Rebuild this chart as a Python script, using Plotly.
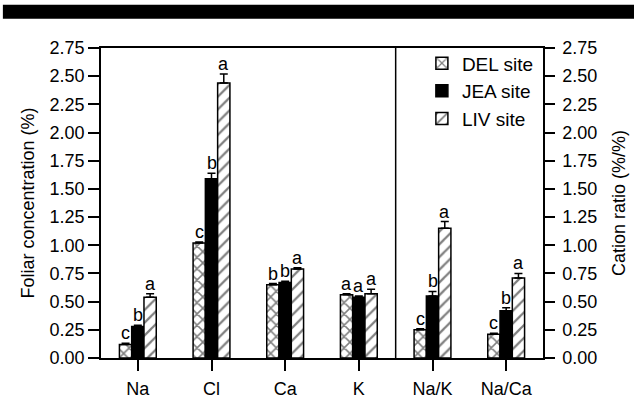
import plotly.graph_objects as go

categories = ["Na", "Cl", "Ca", "K", "Na/K", "Na/Ca"]
sites = ["DEL site", "JEA site", "LIV site"]
del_vals = [0.12, 1.02, 0.65, 0.56, 0.25, 0.21]
jea_vals = [0.28, 1.59, 0.67, 0.54, 0.55, 0.42]
liv_vals = [0.54, 2.44, 0.79, 0.57, 1.15, 0.71]
del_err = [0.01, 0.01, 0.01, 0.01, 0.01, 0.01]
jea_err = [0.01, 0.05, 0.01, 0.01, 0.04, 0.025]
liv_err = [0.03, 0.08, 0.01, 0.04, 0.06, 0.04]
del_letters = ["c", "c", "b", "a", "c", "c"]
jea_letters = ["b", "b", "b", "a", "b", "b"]
liv_letters = ["a", "a", "a", "a", "a", "a"]
y_ticks = [0.00, 0.25, 0.50, 0.75, 1.00, 1.25, 1.50, 1.75, 2.00, 2.25, 2.50, 2.75]

FONT = "Liberation Sans, Arial, sans-serif"

series = [
    (sites[0], del_vals, del_err, del_letters, dict(color="white", line=dict(color="black", width=1.5),
                                                    pattern=dict(shape="x", fgcolor="black", bgcolor="white", size=8, solidity=0.35))),
    (sites[1], jea_vals, jea_err, jea_letters, dict(color="black", line=dict(color="black", width=1.5))),
    (sites[2], liv_vals, liv_err, liv_letters, dict(color="white", line=dict(color="black", width=1.5),
                                                    pattern=dict(shape="/", fgcolor="black", bgcolor="white", size=9, solidity=0.25))),
]

fig = go.Figure()
annotations = []
offsets = [-1/6, 0, 1/6]
for k, (name, vals, errs, letters, marker) in enumerate(series):
    fig.add_trace(go.Bar(
        name=name, x=categories, y=vals, marker=marker,
        error_y=dict(type="data", array=errs, arrayminus=[0]*len(errs), symmetric=False,
                     color="black", thickness=1.5, width=4),
    ))
    for i, (v, e, t) in enumerate(zip(vals, errs, letters)):
        annotations.append(dict(
            x=i + offsets[k], y=v + e, xref="x", yref="y", text=t, showarrow=False,
            yanchor="bottom", xanchor="center", yshift=-2,
            font=dict(family=FONT, size=18, color="black"),
        ))

# invisible trace so the right-hand axis is drawn
fig.add_trace(go.Scatter(x=[categories[-1]], y=[0], yaxis="y2", mode="markers",
                         marker=dict(opacity=0), showlegend=False, hoverinfo="skip"))

fig.update_layout(
    width=634, height=402,
    margin=dict(l=101, r=91, t=48, b=44),
    paper_bgcolor="white", plot_bgcolor="white",
    barmode="group", bargap=0.5, bargroupgap=0,
    font=dict(family=FONT, size=18, color="black"),
    showlegend=True,
    legend=dict(x=0.726, y=1.012, xanchor="left", yanchor="top", bgcolor="rgba(0,0,0,0)",
                font=dict(family=FONT, size=19, color="black"), tracegroupgap=0),
    xaxis=dict(type="category", range=[-0.5, 5.5], showline=True, linecolor="black", linewidth=1.5,
               mirror=True, ticks="outside", ticklen=11, tickwidth=1.5, tickcolor="black",
               showgrid=False, zeroline=False, tickfont=dict(size=18), ticklabelstandoff=3,
               automargin=False),
    yaxis=dict(range=[0, 2.75], tickvals=y_ticks, ticktext=[f"{v:.2f}" for v in y_ticks],
               showline=True, linecolor="black", linewidth=1.5, ticks="outside", ticklen=11,
               tickwidth=1.5, tickcolor="black", showgrid=False, zeroline=False,
               tickfont=dict(size=18), automargin=False,
               title=dict(text="Foliar concentration (%)", font=dict(size=18), standoff=10)),
    yaxis2=dict(range=[0, 2.75], overlaying="y", side="right", tickvals=y_ticks,
                ticktext=[f"{v:.2f}" for v in y_ticks],
                showline=True, linecolor="black", linewidth=1.5, ticks="outside", ticklen=10,
                tickwidth=1.5, tickcolor="black", showgrid=False, zeroline=False,
                tickfont=dict(size=18), ticklabelstandoff=4, automargin=False,
                title=dict(text="Cation ratio (%/%)", font=dict(size=18), standoff=16)),
    annotations=annotations,
    shapes=[
        dict(type="line", xref="x", yref="y", x0=3.5, x1=3.5, y0=0, y1=2.75,
             line=dict(color="black", width=1.5)),
        dict(type="rect", xref="paper", yref="paper", x0=-0.222, x1=1.21, y0=1.0946, y1=1.1398,
             fillcolor="black", line=dict(width=0)),
    ],
)

fig.write_html("out.html")
